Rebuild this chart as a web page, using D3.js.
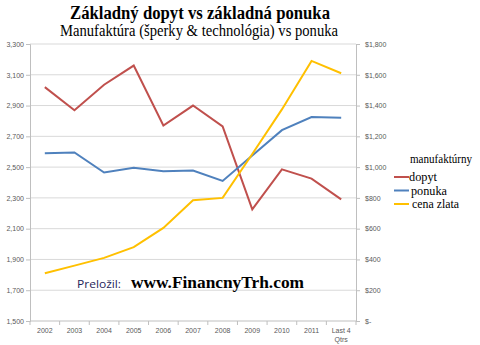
<!DOCTYPE html>
<html>
<head>
<meta charset="utf-8">
<script src="https://cdn.jsdelivr.net/npm/d3@7"></script>
<style>
  html, body { margin: 0; padding: 0; background: #fff; }
  svg { display: block; }
  .serif { font-family: "Liberation Serif", "Times New Roman", Tinos, serif; }
</style>
</head>
<body>
<svg id="chart" width="480" height="345"></svg>
<script>
const categories = ["2002","2003","2004","2005","2006","2007","2008","2009","2010","2011","Last 4 Qtrs"];
const demand = [3020, 2870, 3035, 3160, 2770, 2900, 2765, 2225, 2485, 2425, 2290];
const supply = [2590, 2595, 2465, 2495, 2473, 2478, 2410, 2575, 2740, 2825, 2820];
const gold   = [310, 360, 410, 480, 605, 785, 800, 1085, 1375, 1690, 1610];
const leftTicks = [1500, 1700, 1900, 2100, 2300, 2500, 2700, 2900, 3100, 3300];
const rightTicks = [0, 200, 400, 600, 800, 1000, 1200, 1400, 1600, 1800];
const seriesNames = ["dopyt", "ponuka", "cena zlata"];
const seriesColors = ["#c0504d", "#4f81bd", "#ffc000"];

const svg = d3.select("#chart");
const plot = { left: 30, right: 356, top: 44, bottom: 321 };

const x = d3.scaleBand().domain(categories).range([plot.left, plot.right]);
const yL = d3.scaleLinear().domain([1500, 3300]).range([plot.bottom, plot.top]);
const yR = d3.scaleLinear().domain([0, 1800]).range([plot.bottom, plot.top]);

// gridlines
svg.append("g").selectAll("line").data(leftTicks.slice(1)).join("line")
  .attr("x1", plot.left).attr("x2", plot.right)
  .attr("y1", d => yL(d)).attr("y2", d => yL(d))
  .attr("stroke", "#d9d9d9").attr("stroke-width", 1);

const tickFamily = "'Liberation Sans', Arial, sans-serif";

function styleAxis(g) {
  g.select(".domain").attr("stroke", "#bfbfbf");
  g.selectAll(".tick line").attr("stroke", "#bfbfbf");
  g.selectAll("text").attr("fill", "#595959")
    .attr("font-family", tickFamily).attr("font-size", 7);
}

// left axis
svg.append("g").attr("transform", `translate(${plot.left},0)`)
  .call(d3.axisLeft(yL).tickValues(leftTicks).tickSize(4).tickPadding(2).tickFormat(d3.format(",")))
  .call(styleAxis);

// right axis
svg.append("g").attr("transform", `translate(${plot.right},0)`)
  .call(d3.axisRight(yR).tickValues(rightTicks).tickSize(4).tickPadding(5)
    .tickFormat(d => d === 0 ? "$-" : "$" + d3.format(",")(d)))
  .call(styleAxis);

// bottom axis with category separators
svg.append("line").attr("x1", plot.left).attr("x2", plot.right)
  .attr("y1", plot.bottom).attr("y2", plot.bottom).attr("stroke", "#bfbfbf");
const bounds = categories.map(c => x(c)).concat([plot.right]);
svg.append("g").selectAll("line").data(bounds).join("line")
  .attr("x1", d => d).attr("x2", d => d)
  .attr("y1", plot.bottom).attr("y2", plot.bottom + 4)
  .attr("stroke", "#bfbfbf");
const cx = d => x(d) + x.bandwidth() / 2;
svg.append("g").selectAll("text").data(categories).join("text")
  .attr("x", cx).attr("y", 333)
  .attr("text-anchor", "middle")
  .attr("fill", "#595959")
  .attr("font-family", tickFamily).attr("font-size", 7)
  .each(function(d) {
    const t = d3.select(this);
    if (d === "Last 4 Qtrs") {
      t.append("tspan").attr("x", cx(d)).text("Last 4");
      t.append("tspan").attr("x", cx(d)).attr("dy", 9).text("Qtrs");
    } else {
      t.text(d);
    }
  });

// series lines
const lineL = d3.line().x((v, i) => cx(categories[i])).y(v => yL(v));
const lineR = d3.line().x((v, i) => cx(categories[i])).y(v => yR(v));
svg.append("path").datum(demand).attr("d", lineL)
  .attr("fill", "none").attr("stroke", seriesColors[0]).attr("stroke-width", 2);
svg.append("path").datum(supply).attr("d", lineL)
  .attr("fill", "none").attr("stroke", seriesColors[1]).attr("stroke-width", 2);
svg.append("path").datum(gold).attr("d", lineR)
  .attr("fill", "none").attr("stroke", seriesColors[2]).attr("stroke-width", 2);

// serif text helper, fitted to a given width
function serifText(xPos, yPos, size, width, str, bold, anchor) {
  return svg.append("text").attr("class", "serif")
    .attr("x", xPos).attr("y", yPos)
    .attr("text-anchor", anchor || "start")
    .attr("font-size", size)
    .attr("font-weight", bold ? "bold" : "normal")
    .attr("textLength", width).attr("lengthAdjust", "spacingAndGlyphs")
    .attr("fill", "#000").text(str);
}

// titles
serifText(200, 19, 18, 260, "Základný dopyt vs základná ponuka", true, "middle");
serifText(199, 36, 16, 278, "Manufaktúra (šperky & technológia) vs ponuka", false, "middle");

// legend
serifText(410, 163, 12, 62, "manufaktúrny", false);
const legendWidths = [28, 36, 47];
const lg = svg.append("g").selectAll("g").data(seriesNames).join("g")
  .attr("transform", (d, i) => `translate(394,${177 + i * 13.5})`);
lg.append("line").attr("x1", 0).attr("x2", 15).attr("y1", 0).attr("y2", 0)
  .attr("stroke", (d, i) => seriesColors[i]).attr("stroke-width", 2);
lg.append("text").attr("class", "serif")
  .attr("x", (d, i) => i === 0 ? 15 : i === 1 ? 17 : 18).attr("y", 4)
  .attr("font-size", 13)
  .attr("textLength", (d, i) => legendWidths[i]).attr("lengthAdjust", "spacingAndGlyphs")
  .attr("fill", "#000").text(d => d);

// credit
svg.append("text").attr("x", 77).attr("y", 288)
  .attr("font-family", "'Open Sans', 'DejaVu Sans', sans-serif").attr("font-size", 11.5)
  .attr("textLength", 44).attr("lengthAdjust", "spacingAndGlyphs")
  .attr("fill", "#1f1f5a")
  .text("Preložil:");
serifText(131, 288, 17, 173, "www.FinancnyTrh.com", true);
</script>
</body>
</html>
